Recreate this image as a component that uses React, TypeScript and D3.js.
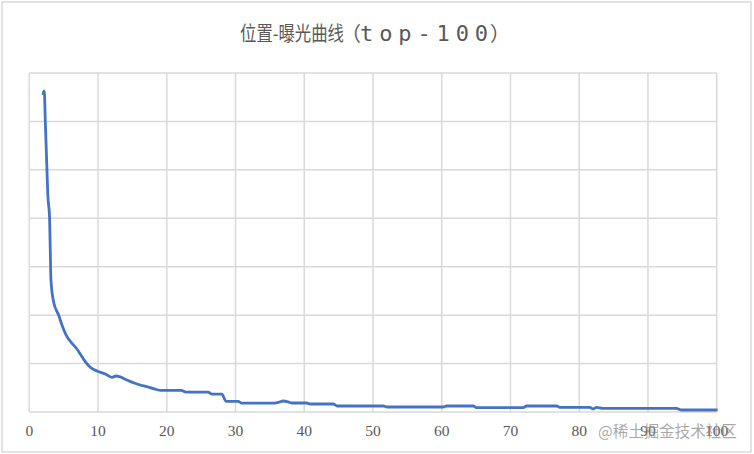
import React from "react";
import * as d3 from "d3";

const titleCjk = "位置-曝光曲线";
const titleOpen = "（";
const titleLatin = "top-100";
const titleClose = "）";
const watermark = "@稀土掘金技术社区";
const xTicks = [0, 10, 20, 30, 40, 50, 60, 70, 80, 90, 100];
const yTicks = [0, 1000, 2000, 3000, 4000, 5000, 6000, 7000];

const positions = [
  2.01, 2.18, 2.33, 2.57, 2.69, 2.95, 3.05, 3.15, 3.53, 4.26, 4.75, 5.48, 6.21, 6.93,
  7.41, 8.14, 8.87, 9.84, 11.05, 12.02, 12.65, 13.13, 14.2, 15.16, 16.13, 17.11, 18.07,
  19.04, 22.09, 22.82, 26.02, 26.56, 28.01, 28.63, 30.38, 30.92, 35.28, 36.24, 36.96,
  37.54, 38.18, 40.36, 40.84, 44.23, 44.81, 51.5, 52.08, 60.22, 60.71, 64.58, 65.07,
  71.85, 72.34, 76.7, 77.18, 81.54, 82.02, 82.52, 83.47, 94.14, 94.87, 99.96,
];
const exposure = [
  6576, 6632, 5994, 4997, 4500, 4000, 3345, 2726, 2278, 2003, 1796, 1555, 1419, 1301,
  1198, 1039, 923, 847, 785, 717, 743, 729, 661, 605, 558, 522, 481,
  448, 448, 409, 409, 368, 368, 221, 221, 182, 182, 200, 227,
  213, 186, 186, 165, 165, 124, 124, 103, 103, 124, 124, 89,
  89, 124, 124, 97, 97, 62, 97, 76, 76, 41, 41,
];

export default function App() {
  const W = 754;
  const H = 454;
  const left = 29.3;
  const right = 716.7;
  const top = 73;
  const bottom = 412;
  const x = d3.scaleLinear().domain([0, 100]).range([left, right]);
  const y = d3.scaleLinear().domain([0, 7000]).range([bottom, top]);
  const pts: [number, number][] = positions.map((p, i) => [p, exposure[i]]);
  const line = d3
    .line<[number, number]>()
    .x((d) => x(d[0]))
    .y((d) => y(d[1]))
    .curve(d3.curveMonotoneX);
  const grid = "#d9d9d9";
  return (
    <svg
      width={W}
      height={H}
      style={{ position: "absolute", left: 0, top: 0, background: "#fff" }}
    >
      <rect x={0} y={0} width={W} height={H} fill="#fff" />
      <rect x={2} y={2} width={749} height={450} fill="none" stroke={grid} strokeWidth={1.5} />
      {yTicks.map((t) => (
        <line key={"h" + t} x1={left} x2={right} y1={y(t)} y2={y(t)} stroke={grid} strokeWidth={1.5} />
      ))}
      {xTicks.map((t) => (
        <line key={"v" + t} x1={x(t)} x2={x(t)} y1={top} y2={bottom} stroke={grid} strokeWidth={1.5} />
      ))}
      {xTicks.map((t) => (
        <text
          key={"l" + t}
          x={x(t)}
          y={436}
          textAnchor="middle"
          fontFamily="'Liberation Serif', serif"
          fontSize={15.5}
          fill="#595959"
        >
          {t}
        </text>
      ))}
      <path
        d={line(pts) || ""}
        fill="none"
        stroke="#4472C4"
        strokeWidth={2.8}
        strokeLinejoin="round"
        strokeLinecap="round"
      />
      <text
        y={41}
        fontFamily="'Noto Sans CJK SC', sans-serif"
        fontSize={20}
        fill="#595959"
      >
        <tspan x={240} textLength={104} lengthAdjust="spacingAndGlyphs">
          {titleCjk}
        </tspan>
        <tspan x={341}>{titleOpen}</tspan>
        <tspan
          x={360}
          textLength={128}
          lengthAdjust="spacing"
          fontFamily="'DejaVu Sans Mono', monospace"
          fontSize={22}
        >
          {titleLatin}
        </tspan>
        <tspan x={490}>{titleClose}</tspan>
      </text>
      <text
        x={598}
        y={437}
        fontFamily="'Noto Sans CJK SC', sans-serif"
        fontSize={15.5}
        fill="rgba(140,140,140,0.75)"
      >
        {watermark}
      </text>
    </svg>
  );
}
